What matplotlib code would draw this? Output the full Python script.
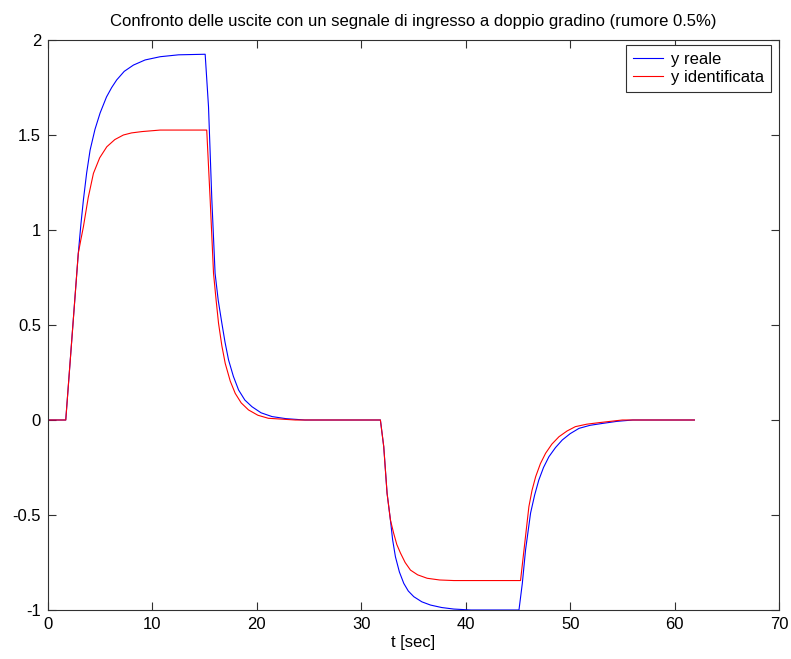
import numpy as np
import matplotlib
matplotlib.use("Agg")
import matplotlib.pyplot as plt
from matplotlib import rcParams
from matplotlib.ticker import FuncFormatter

rcParams["font.family"] = ["Liberation Sans", "DejaVu Sans"]
rcParams["axes.unicode_minus"] = False

# values
t_reale = [0, 1.7, 2.9, 3.15, 3.39, 3.7, 4.03, 4.5, 4.99, 5.6, 6.1, 6.58, 7.3, 8.18, 9.3,
           10.74, 12.5, 15.05,
           15.37, 15.69, 16.0, 16.3, 16.65, 16.95, 17.29, 17.75, 18.25, 18.85, 19.53,
           20.4, 21.45, 22.8, 24.6, 31.83,
           32.15, 32.47, 32.79, 33.0, 33.27, 33.65, 34.07, 34.5, 35.03, 35.8, 36.63,
           37.7, 38.86, 40.5, 45.1,
           45.42, 45.73, 46.21, 46.6, 47.0, 47.45, 47.97, 48.6, 49.25, 50.0, 50.85,
           51.9, 53.1, 54.5, 56.0, 61.9]
y_reale = [0, 0, 0.877, 1.03, 1.158, 1.30, 1.42, 1.53, 1.616, 1.70, 1.75, 1.79, 1.835, 1.868, 1.895,
           1.912, 1.922, 1.925,
           1.649, 1.158, 0.772, 0.63, 0.509, 0.41, 0.316, 0.23, 0.158, 0.105, 0.07,
           0.038, 0.018, 0.007, 0.0, 0.0,
           -0.14, -0.386, -0.526, -0.63, -0.72, -0.80, -0.86, -0.90, -0.93, -0.957, -0.974,
           -0.987, -0.995, -1.0, -1.0,
           -0.86, -0.684, -0.49, -0.395, -0.316, -0.25, -0.193, -0.145, -0.105, -0.072, -0.044,
           -0.028, -0.018, -0.007, 0.0, 0.0]

t_ident = [0, 1.7, 2.9, 3.15, 3.39, 3.85, 4.35, 4.95, 5.63, 6.4, 7.22, 8.0, 9.0, 10.74, 15.2,
           15.53, 15.85, 16.1, 16.33, 16.65, 16.97, 17.45, 17.93, 18.5, 19.2, 20.1,
           21.1, 23.7, 31.83,
           32.15, 32.47, 32.79, 33.1, 33.4, 33.75, 34.2, 34.71, 35.4, 36.31, 37.5,
           38.86, 45.25,
           45.58, 46.05, 46.35, 46.7, 47.15, 47.65, 48.25, 48.93, 49.7, 50.5, 51.6,
           52.76, 55.0, 61.9]
y_ident = [0, 0, 0.877, 0.95, 1.017, 1.17, 1.298, 1.38, 1.438, 1.476, 1.5, 1.511, 1.518, 1.526, 1.526,
           1.158, 0.772, 0.63, 0.509, 0.39, 0.298, 0.205, 0.14, 0.09, 0.053, 0.025,
           0.009, 0.0, 0.0,
           -0.14, -0.386, -0.526, -0.596, -0.655, -0.70, -0.75, -0.79, -0.815, -0.833, -0.842,
           -0.845, -0.845,
           -0.684, -0.456, -0.37, -0.298, -0.23, -0.175, -0.127, -0.088, -0.058, -0.035, -0.022,
           -0.014, 0.0, 0.0]

xticks = [0, 10, 20, 30, 40, 50, 60, 70]
yticks = [-1, -0.5, 0, 0.5, 1, 1.5, 2]

fig = plt.figure(figsize=(7.91, 6.59), dpi=100)
ax = fig.add_axes([48 / 791, 1 - 610 / 659, 731 / 791, 570 / 659])

ax.plot(t_reale, y_reale, c="#0000ff", lw=0.8, label="y reale")
ax.plot(t_ident, y_ident, c="#ff0000", lw=0.8, label="y identificata")

ax.set_xlim(0, 70)
ax.set_ylim(-1, 2)
ax.set_xticks(xticks)
ax.set_yticks(yticks)
ax.yaxis.set_major_formatter(FuncFormatter(lambda v, p: "%g" % v))
ax.tick_params(direction="in", length=6, width=0.8, labelsize=12, color="#303030",
               top=True, right=True, pad=5)
for s in ax.spines.values():
    s.set_color("#303030")
    s.set_linewidth(0.8)

ax.set_title("Confronto delle uscite con un segnale di ingresso a doppio gradino (rumore 0.5%)",
             fontsize=12, pad=10)
ax.set_xlabel("t [sec]", fontsize=12, labelpad=2)

leg = ax.legend(loc="upper right", bbox_to_anchor=(0.989, 0.991), fontsize=12,
                fancybox=False, framealpha=1, edgecolor="#303030",
                handlelength=1.8, handletextpad=0.5, borderpad=0.4, labelspacing=0.2,
                borderaxespad=0)
leg.get_frame().set_linewidth(0.8)

fig.savefig("out.png", dpi=100)
